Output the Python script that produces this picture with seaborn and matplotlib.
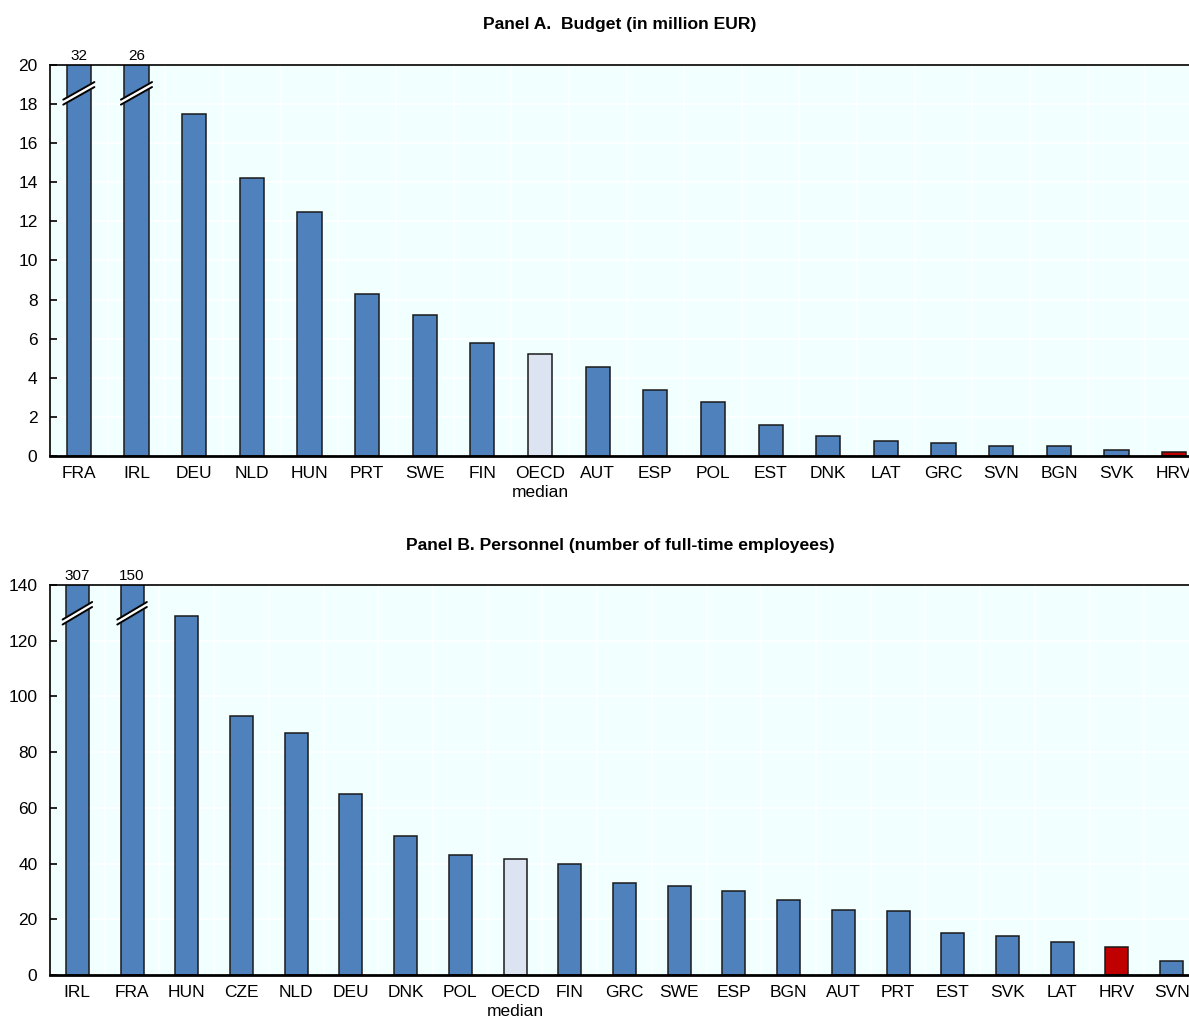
import matplotlib
matplotlib.use("Agg")
import matplotlib.pyplot as plt
import matplotlib.transforms as mtransforms
import seaborn as sns

# Panel A data: budget in million EUR
budget_countries = ["FRA", "IRL", "DEU", "NLD", "HUN", "PRT", "SWE", "FIN", "OECD\nmedian", "AUT",
                    "ESP", "POL", "EST", "DNK", "LAT", "GRC", "SVN", "BGN", "SVK", "HRV"]
budget_values = [32, 26, 17.5, 14.2, 12.5, 8.3, 7.2, 5.8, 5.2, 4.55,
                 3.4, 2.75, 1.6, 1.0, 0.75, 0.65, 0.5, 0.5, 0.3, 0.2]

# Panel B data: personnel (full-time employees)
staff_countries = ["IRL", "FRA", "HUN", "CZE", "NLD", "DEU", "DNK", "POL", "OECD\nmedian", "FIN", "GRC",
                   "SWE", "ESP", "BGN", "AUT", "PRT", "EST", "SVK", "LAT", "HRV", "SVN"]
staff_values = [307, 150, 129, 93, 87, 65, 50, 43, 41.5, 40, 33,
                32, 30, 27, 23.5, 23, 15, 14, 12, 10, 5]

BLUE = "#4F81BD"
MEDIAN = "#DCE4F2"
RED = "#C00000"
BG = "#F2FFFF"

sns.set_theme(style="white")
plt.rcParams["font.family"] = ["Liberation Sans", "DejaVu Sans"]
plt.rcParams["text.color"] = "black"
plt.rcParams["xtick.color"] = "black"
plt.rcParams["ytick.color"] = "black"


def colours(cats):
    out = []
    for c in cats:
        if c.startswith("OECD"):
            out.append(MEDIAN)
        elif c == "HRV":
            out.append(RED)
        else:
            out.append(BLUE)
    return out


def panel(ax, cats, vals, ymax, ystep, title, title_y):
    sns.barplot(x=cats, y=vals, hue=cats, palette=colours(cats), legend=False,
                width=0.42, edgecolor="#1a1a1a", linewidth=1.1, ax=ax, saturation=1)
    ax.set_facecolor(BG)
    ax.set_ylim(0, ymax)
    ax.set_xlim(-0.5, len(cats) - 0.5)
    ax.set_yticks(range(0, ymax + 1, ystep))
    ax.set_xticks(range(len(cats)))
    ax.set_xticklabels(cats, fontsize=12.5, linespacing=1.35)
    ax.set_xticks([i + 0.5 for i in range(len(cats) - 1)], minor=True)
    ax.tick_params(axis="x", which="major", length=0, pad=7)
    ax.tick_params(axis="x", which="minor", direction="in", length=5, width=1.2, color="black")
    ax.tick_params(axis="y", direction="in", length=5, width=1.2, color="black", labelsize=12.5, pad=9,
                   left=True)
    ax.grid(True, axis="y", which="major", color="white", linewidth=1.2)
    ax.grid(True, axis="x", which="minor", color="white", linewidth=1.2)
    ax.set_axisbelow(True)
    for s in ax.spines.values():
        s.set_color("black")
        s.set_linewidth(1.2)
    ax.spines["bottom"].set_linewidth(2)
    ax.set_xlabel("")
    ax.set_ylabel("")

    # broken bars: value labels above the frame and break marks
    trans = mtransforms.blended_transform_factory(ax.transData, ax.transAxes)
    fig = ax.figure
    for i, v in enumerate(vals):
        if v > ymax:
            ax.text(i, 1.005, f"{v:g}", transform=trans, ha="center", va="bottom", fontsize=11)
            xs = [i - 0.27, i + 0.27]
            ys = [0.905, 0.95]
            ax.plot(xs, ys, transform=trans, color="white", linewidth=4, solid_capstyle="butt",
                    clip_on=False, zorder=5)
            for dy in (-2.5, 2.5):
                t = mtransforms.offset_copy(trans, fig=fig, y=dy, units="dots")
                ax.plot(xs, ys, transform=t, color="black", linewidth=1.4, clip_on=False, zorder=6)

    fig.text(620 / 1189, title_y, title, ha="center", va="center", fontsize=12.6, fontweight="bold")


fig = plt.figure(figsize=(11.89, 10.22), dpi=100)
ax1 = fig.add_axes([50 / 1189, 1 - 456 / 1022, 1153 / 1189, 391 / 1022])
ax2 = fig.add_axes([50 / 1189, 1 - 975 / 1022, 1149 / 1189, 390 / 1022])

panel(ax1, budget_countries, budget_values, 20, 2, "Panel A.  Budget (in million EUR)", 1 - 24 / 1022)
panel(ax2, staff_countries, staff_values, 140, 20, "Panel B. Personnel (number of full-time employees)",
      1 - 545 / 1022)

fig.savefig("out.png", dpi=100, facecolor="white")
